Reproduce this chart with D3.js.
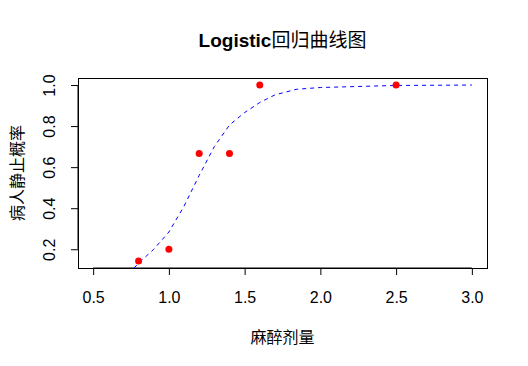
<!DOCTYPE html>
<html>
<head>
<meta charset="utf-8">
<script src="https://cdn.jsdelivr.net/npm/d3@7"></script>
<style>
    body { margin: 0; background: #fff; }
    svg { display: block; font-family: "Liberation Sans", Arial, "Noto Sans CJK SC", sans-serif; }
</style>
</head>
<body>
<div id="chart"></div>
<script>
// observed data (dose vs. proportion still)
const doses = [0.8, 1.0, 1.2, 1.4, 1.6, 2.5];
const probs = [0.143, 0.2, 0.667, 0.667, 1.0, 1.0];

// fitted curve
const curveX = [0.77, 0.8, 0.9, 1.0, 1.1, 1.2, 1.3, 1.4, 1.5, 1.6, 1.7, 1.84, 2.0, 2.5, 3.0];
const curveY = [0.109, 0.132, 0.2, 0.284, 0.41, 0.56, 0.7, 0.805, 0.866, 0.915, 0.952, 0.979, 0.988, 0.998, 1.0];

const xTicks = [0.5, 1.0, 1.5, 2.0, 2.5, 3.0];
const yTicks = [0.2, 0.4, 0.6, 0.8, 1.0];

const width = 528, height = 366;
const margin = { top: 78, right: 41, bottom: 98, left: 78 };

const svg = d3.select("#chart").append("svg")
    .attr("width", width)
    .attr("height", height);

// R-style 4% padding around xlim = c(0.5, 3), ylim = range(probs)
const x = d3.scaleLinear().domain([0.4, 3.1]).range([margin.left, width - margin.right]);
const yMin = d3.min(probs), yMax = d3.max(probs), pad = (yMax - yMin) * 0.04;
const y = d3.scaleLinear().domain([yMin - pad, yMax + pad]).range([height - margin.bottom, margin.top]);

svg.append("defs").append("clipPath").attr("id", "plot-clip")
    .append("rect")
    .attr("x", margin.left).attr("y", margin.top)
    .attr("width", width - margin.left - margin.right)
    .attr("height", height - margin.top - margin.bottom);

// --- Axes ---
const xAxis = svg.append("g")
    .attr("transform", `translate(0,${height - margin.bottom})`)
    .call(d3.axisBottom(x).tickValues(xTicks).tickFormat(d3.format(".1f")).tickSize(7).tickSizeOuter(0));
xAxis.select(".domain").attr("d", `M${x(0.5)},0H${x(3.0)}`);
xAxis.selectAll("text").attr("y", 35).attr("dy", 0).attr("font-size", 16).attr("fill", "#000");

const yAxis = svg.append("g")
    .attr("transform", `translate(${margin.left},0)`)
    .call(d3.axisLeft(y).tickValues(yTicks).tickFormat(d3.format(".1f")).tickSize(7).tickSizeOuter(0));
yAxis.select(".domain").attr("d", `M0,${y(0.2)}V${y(1.0)}`);
yAxis.selectAll("text")
    .attr("x", 0).attr("dy", 0)
    .attr("text-anchor", "middle")
    .attr("transform", "translate(-23,0) rotate(-90)")
    .attr("font-size", 16).attr("fill", "#000");

// plot box
svg.append("rect")
    .attr("x", margin.left + 0.5).attr("y", margin.top + 0.5)
    .attr("width", width - margin.left - margin.right)
    .attr("height", height - margin.top - margin.bottom)
    .attr("fill", "none").attr("stroke", "#000");

// --- Curve ---
const line = d3.line().x(d => x(d[0])).y(d => y(d[1]));
svg.append("path")
    .datum(d3.zip(curveX, curveY))
    .attr("clip-path", "url(#plot-clip)")
    .attr("d", line)
    .attr("fill", "none")
    .attr("stroke", "#0000ff")
    .attr("stroke-width", 1)
    .attr("stroke-dasharray", "4,4");

// --- Points ---
svg.append("g").selectAll("circle")
    .data(d3.zip(doses, probs))
    .join("circle")
    .attr("cx", d => x(d[0]))
    .attr("cy", d => y(d[1]))
    .attr("r", 3.5)
    .attr("fill", "#ff0000");

// --- Labels ---
const title = svg.append("text")
    .attr("x", (margin.left + width - margin.right) / 2)
    .attr("y", 47)
    .attr("text-anchor", "middle")
    .attr("font-size", 19);
title.append("tspan").attr("font-weight", "bold").text("Logistic");
title.append("tspan").attr("font-family", "Noto Sans CJK SC").attr("font-weight", "normal").text("回归曲线图");

svg.append("text")
    .attr("x", (margin.left + width - margin.right) / 2)
    .attr("y", 336)
    .attr("text-anchor", "middle")
    .attr("dominant-baseline", "central")
    .attr("font-family", "Noto Sans CJK SC")
    .attr("font-size", 16)
    .text("麻醉剂量");

svg.append("text")
    .attr("transform", `translate(16,${(margin.top + height - margin.bottom) / 2}) rotate(-90)`)
    .attr("text-anchor", "middle")
    .attr("dominant-baseline", "central")
    .attr("font-family", "Noto Sans CJK SC")
    .attr("font-size", 16)
    .text("病人静止概率");
</script>
</body>
</html>
